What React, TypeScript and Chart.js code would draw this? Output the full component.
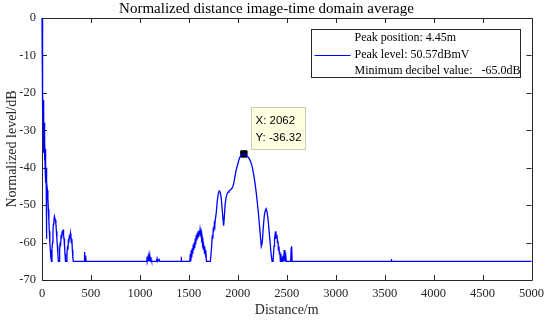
import React, { useEffect, useRef } from "react";
import { Chart, registerables } from "chart.js";

Chart.register(...registerables);

const titleText = "Normalized distance image-time domain average";
const xLabel = "Distance/m";
const yLabel = "Normalized level/dB";
const legendLines = ["Peak position: 4.45m", "Peak level: 50.57dBmV", "Minimum decibel value:   -65.0dB"];
const peakX = 2062;
const peakY = -36.32;
const xTickValues = [0, 500, 1000, 1500, 2000, 2500, 3000, 3500, 4000, 4500, 5000];
const yTickValues = [0, -10, -20, -30, -40, -50, -60, -70];

const distances = [
  0, 2, 4, 6, 8, 10, 12, 14, 16, 18, 20, 22, 24, 26, 28, 30, 32, 34, 36, 38, 40, 42, 44, 46, 48, 50,
  55, 60, 65, 70, 75, 80, 85, 90, 97,
  102, 107, 112, 117, 122, 127, 132, 137, 142, 147, 152, 157, 162, 167, 175,
  180, 185, 190, 195, 200, 205, 210, 215, 220, 225, 230, 235, 240, 250,
  255, 260, 265, 270, 275, 280, 285, 290, 295, 300, 305, 310, 315, 320,
  430, 435, 440, 445, 450,
  1070, 1072, 1075, 1085, 1090, 1100, 1105, 1110, 1115, 1120,
  1170, 1175, 1180, 1195, 1200,
  1420, 1422, 1425,
  1510, 1515, 1520, 1525, 1530, 1535, 1540, 1545, 1550, 1555, 1560, 1565, 1570, 1575, 1580, 1585,
  1590, 1595, 1600, 1605, 1610, 1615, 1620, 1625, 1630, 1635, 1640, 1645, 1650, 1655, 1660, 1665,
  1670, 1675, 1680, 1720, 1730, 1740, 1745, 1750, 1755, 1760, 1765, 1770, 1780, 1790, 1800, 1810,
  1820, 1830, 1840, 1850, 1855, 1860, 1870, 1880, 1890, 1900, 1910, 1920, 1930, 1940, 1950, 1960,
  1970, 1980, 1990, 2000, 2010, 2020, 2030, 2040, 2062, 2080, 2100, 2115, 2130, 2145, 2160, 2175,
  2190, 2200, 2210, 2220, 2230, 2240, 2250, 2260, 2270, 2280, 2290, 2300, 2310, 2320, 2330, 2340,
  2350, 2360, 2370, 2375, 2380, 2385, 2390, 2395, 2400, 2405, 2410, 2415, 2420, 2425, 2430, 2435,
  2440, 2445, 2450, 2455, 2460, 2465, 2475, 2480, 2490, 2495, 2540, 2545, 2550, 2555,
  3565, 3568, 3571, 5000,
];

const levels = [
  0, -8, -15, -19, -24, -20, -30, -22, -34, -25, -36, -28, -37, -30, -38, -33, -40, -35, -42, -38, -44, -40, -45, -42, -59, -44,
  -46, -48, -51, -54, -57, -60, -62, -64, -65,
  -62, -60, -57, -55, -54, -53, -53, -54, -55, -57, -59, -61, -63, -65, -65,
  -62, -60, -61, -58, -59, -57, -58, -56.5, -58, -59, -61, -63, -65, -65,
  -63, -61, -62, -59, -60, -58, -59, -57.5, -58.5, -60, -59, -62, -64, -65,
  -65, -62.5, -65, -63.5, -65,
  -65, -63.8, -65, -63.6, -65, -63.3, -65, -63.8, -64.5, -65,
  -65, -64.3, -65, -64.5, -65,
  -65, -63.8, -65,
  -65, -63, -65, -62, -64, -61.5, -63, -60.5, -62, -60, -61.5, -59, -60.5, -58, -59.5, -57.5,
  -59, -57, -58.5, -56.8, -58, -56.5, -57.5, -57, -59, -58.5, -60.5, -60, -62, -61, -63, -62,
  -64, -62, -65, -65, -62, -58, -59, -56, -57, -55, -55.5, -54, -52, -49, -47, -46.2,
  -46.5, -48, -51, -54, -55.5, -54, -50, -48, -47, -46.5, -46.2, -46, -45.8, -45.5, -45, -44,
  -42.5, -41, -40, -39, -38, -37.3, -36.8, -36.5, -36.32, -36.6, -37, -37.5, -38.3, -39.5, -41.5, -44,
  -47, -49.5, -52, -55, -58, -61, -60, -56, -53, -51.5, -51, -52, -54, -57, -60, -63,
  -65, -65, -61, -59, -58, -59, -57, -58.5, -58, -60, -59.5, -62, -61, -63, -62.5, -65,
  -63, -65, -64, -65, -63.5, -65, -62, -65, -63.5, -65, -65, -61.5, -61, -65,
  -65, -64.4, -65, -65,
];

const SERIF = "'Liberation Serif', 'Times New Roman', serif";
const SANS = "'Liberation Sans', Arial, sans-serif";
const AXIS_COLOR = "#262626";

const framePlugin = {
  id: "frame",
  beforeDatasetsDraw(chart: any) {
    const { ctx, chartArea, scales } = chart;
    const { left, top, right, bottom } = chartArea;
    ctx.save();
    ctx.strokeStyle = AXIS_COLOR;
    ctx.lineWidth = 1;
    ctx.beginPath();
    ctx.rect(Math.round(left) + 0.5, Math.round(top) + 0.5, Math.round(right - left), Math.round(bottom - top));
    ctx.stroke();
    const tl = 5;
    ctx.beginPath();
    for (const v of xTickValues) {
      const px = Math.round(scales.x.getPixelForValue(v)) + 0.5;
      ctx.moveTo(px, bottom);
      ctx.lineTo(px, bottom - tl);
      ctx.moveTo(px, top);
      ctx.lineTo(px, top + tl);
    }
    for (const v of yTickValues) {
      const py = Math.round(scales.y.getPixelForValue(v)) + 0.5;
      ctx.moveTo(left, py);
      ctx.lineTo(left + tl, py);
      ctx.moveTo(right, py);
      ctx.lineTo(right - tl, py);
    }
    ctx.stroke();
    ctx.restore();
  },
};

const overlayPlugin = {
  id: "overlay",
  afterDatasetsDraw(chart: any) {
    const { ctx, chartArea, scales } = chart;
    const { right, top } = chartArea;
    ctx.save();
    // legend box
    const lx = Math.round(right - 221) + 0.5;
    const ly = Math.round(top + 11) + 0.5;
    const lw = 209;
    const lh = 48;
    ctx.fillStyle = "#ffffff";
    ctx.fillRect(lx, ly, lw, lh);
    ctx.strokeStyle = "#262626";
    ctx.lineWidth = 1;
    ctx.strokeRect(lx, ly, lw, lh);
    ctx.font = `12px ${SERIF}`;
    ctx.fillStyle = "#000000";
    ctx.textBaseline = "middle";
    ctx.textAlign = "left";
    const rows = [ly + 8.5, ly + 25, ly + 41.5];
    legendLines.forEach((t, i) => ctx.fillText(t, lx + 43, rows[i]));
    ctx.strokeStyle = "#0000ff";
    ctx.beginPath();
    ctx.moveTo(lx + 3, Math.round(rows[1]) + 0.5);
    ctx.lineTo(lx + 39, Math.round(rows[1]) + 0.5);
    ctx.stroke();

    // data tip
    const mx = scales.x.getPixelForValue(peakX);
    const my = scales.y.getPixelForValue(peakY);
    const bx = Math.round(mx + 7) + 0.5;
    const by = Math.round(my - 47) + 0.5;
    ctx.fillStyle = "#ffffe1";
    ctx.fillRect(bx, by, 54, 42);
    ctx.strokeStyle = "#c8c8b4";
    ctx.strokeRect(bx, by, 54, 42);
    ctx.fillStyle = "#000000";
    ctx.font = `11.5px ${SANS}`;
    ctx.fillText(`X: ${peakX}`, bx + 4, by + 13);
    ctx.fillText(`Y: ${peakY}`, bx + 4, by + 30);
    ctx.restore();
  },
};

export default function App() {
  const ref = useRef<HTMLCanvasElement | null>(null);
  useEffect(() => {
    if (!ref.current) return;
    const chart = new Chart(ref.current, {
      type: "line",
      data: {
        datasets: [
          {
            data: distances.map((d, i) => ({ x: d, y: levels[i] })),
            borderColor: "#0000ff",
            borderWidth: 1.3,
            pointRadius: 0,
            tension: 0,
            fill: false,
            clip: 3,
          } as any,
          {
            data: [{ x: peakX, y: peakY }],
            showLine: false,
            pointStyle: "rect",
            pointRadius: 4.5,
            backgroundColor: "#000000",
            borderColor: "#000000",
            borderWidth: 1,
            clip: false,
          } as any,
        ],
      },
      options: {
        responsive: false,
        animation: false,
        layout: { padding: { left: 0, right: 17, top: 0, bottom: 0 } },
        plugins: {
          legend: { display: false },
          tooltip: { enabled: false },
          title: {
            display: true,
            text: titleText,
            color: "#000000",
            font: { family: SERIF, size: 15, weight: "normal", lineHeight: 1.2 },
            padding: { top: 0, bottom: 0 },
          },
        },
        scales: {
          x: {
            type: "linear",
            min: 0,
            max: 5000,
            afterBuildTicks: (s: any) => {
              s.ticks = xTickValues.map((v) => ({ value: v }));
            },
            afterFit: (s: any) => {
              s.height = 40;
            },
            ticks: {
              padding: 6,
              color: AXIS_COLOR,
              font: { family: SERIF, size: 12.5 },
              maxRotation: 0,
              autoSkip: false,
              callback: (v: any) => String(v),
            },
            grid: { display: false, drawTicks: false },
            border: { display: false },
            title: {
              display: true,
              text: xLabel,
              color: AXIS_COLOR,
              font: { family: SERIF, size: 14, lineHeight: 1.2 },
              padding: { top: 0, bottom: 1 },
            },
          },
          y: {
            type: "linear",
            min: -70,
            max: 0,
            afterBuildTicks: (s: any) => {
              s.ticks = yTickValues.map((v) => ({ value: v }));
            },
            afterFit: (s: any) => {
              s.width = 42;
            },
            ticks: {
              padding: 6,
              color: AXIS_COLOR,
              font: { family: SERIF, size: 12.5 },
              autoSkip: false,
              callback: (v: any) => String(v),
            },
            grid: { display: false, drawTicks: false },
            border: { display: false },
            title: {
              display: true,
              text: yLabel,
              color: AXIS_COLOR,
              font: { family: SERIF, size: 14, lineHeight: 1.2 },
              padding: { top: 4, bottom: 0 },
            },
          },
        },
      },
      plugins: [framePlugin, overlayPlugin],
    });
    return () => chart.destroy();
  }, []);
  return (
    <div style={{ position: "absolute", left: 0, top: 0, width: 550, height: 320, background: "#ffffff" }}>
      <canvas ref={ref} width={550} height={320} style={{ display: "block" }} />
    </div>
  );
}
